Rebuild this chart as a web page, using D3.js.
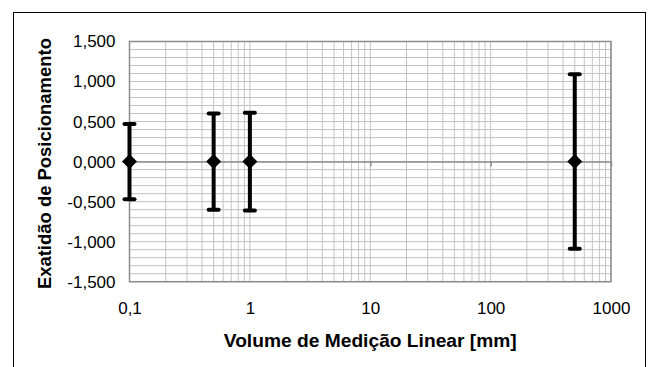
<!DOCTYPE html>
<html>
<head>
<meta charset="utf-8">
<script src="https://cdn.jsdelivr.net/npm/d3@7"></script>
<style>
  html, body { margin: 0; padding: 0; background: #fff; overflow: hidden; }
  svg { display: block; font-family: "Liberation Sans", Arial, sans-serif; }
</style>
</head>
<body>
<div id="chart"></div>
<script>
// data
const volumes = [0.1, 0.5, 1, 500];
const exatidao = [0, 0, 0, 0];
const incerteza = [0.47, 0.6, 0.61, 1.09];

const xTicks = [0.1, 1, 10, 100, 1000];
const xTickLabels = ["0,1", "1", "10", "100", "1000"];
const yTicks = [-1.5, -1, -0.5, 0, 0.5, 1, 1.5];

const xLabel = "Volume de Medição Linear [mm]";
const yLabel = "Exatidão de Posicionamento";

const W = 653, H = 367;
const margin = { top: 41.5, right: 42, bottom: 85.3, left: 129.5 };
const width = W - margin.left - margin.right;
const height = H - margin.top - margin.bottom;

const svg = d3.select("#chart").append("svg").attr("width", W).attr("height", H);

// outer frame (bottom edge falls outside the picture)
svg.append("rect")
  .attr("x", 13.5).attr("y", 12.5)
  .attr("width", 632).attr("height", 400)
  .attr("fill", "none").attr("stroke", "#000").attr("stroke-width", 1);

const g = svg.append("g").attr("transform", `translate(${margin.left},${margin.top})`);

const x = d3.scaleLog().domain([0.1, 1000]).range([0, width]);
const y = d3.scaleLinear().domain([-1.5, 1.5]).range([height, 0]);

// grid: minor horizontal lines every 0.1
const hLines = d3.range(-15, 16).map((d) => d / 10);
g.append("g").selectAll("line").data(hLines).enter().append("line")
  .attr("x1", 0).attr("x2", width)
  .attr("y1", (d) => y(d)).attr("y2", (d) => y(d))
  .attr("stroke", "#c0c0c0").attr("stroke-width", 1);

// grid: log minor vertical lines
const vLines = [];
[0.1, 1, 10, 100].forEach((dec) => {
  for (let k = 1; k <= 9; k++) vLines.push(dec * k);
});
vLines.push(1000);
g.append("g").selectAll("line").data(vLines).enter().append("line")
  .attr("x1", (d) => x(d)).attr("x2", (d) => x(d))
  .attr("y1", 0).attr("y2", height)
  .attr("stroke", "#c4c4c4").attr("stroke-width", 1);

// plot border
g.append("rect")
  .attr("x", 0).attr("y", 0).attr("width", width).attr("height", height)
  .attr("fill", "none").attr("stroke", "#8c8c8c").attr("stroke-width", 1.5);

// x axis line at zero with decade ticks
const xAxis = g.append("g").attr("transform", `translate(0,${y(0)})`)
  .call(d3.axisBottom(x).tickValues(xTicks).tickSize(5).tickSizeOuter(0).tickFormat(""));
xAxis.select(".domain").attr("stroke", "#8c8c8c").attr("stroke-width", 1.5);
xAxis.selectAll(".tick line").attr("stroke", "#8c8c8c").attr("stroke-width", 1.5);

// x tick labels at the bottom
const xLab = g.append("g").attr("transform", `translate(0,${height})`)
  .call(d3.axisBottom(x).tickValues(xTicks).tickSize(0).tickPadding(20)
    .tickFormat((d, i) => xTickLabels[i]));
xLab.select(".domain").remove();
xLab.selectAll("text").attr("fill", "#000").style("font-size", "17px")
  .style("font-family", "Liberation Sans, Arial, sans-serif");

// y tick labels
const loc = d3.formatLocale({ decimal: ",", thousands: ".", grouping: [3], currency: ["", ""], minus: "-" });
const fmt = loc.format(".3f");
const yAx = g.append("g")
  .call(d3.axisLeft(y).tickValues(yTicks).tickSize(0).tickPadding(14).tickFormat(fmt));
yAx.select(".domain").remove();
yAx.selectAll("text").attr("fill", "#000").style("font-size", "17px")
  .style("font-family", "Liberation Sans, Arial, sans-serif");

// error bars
const bars = g.append("g");
bars.selectAll(".stem").data(volumes).enter().append("line")
  .attr("x1", (d) => x(d)).attr("x2", (d) => x(d))
  .attr("y1", (d, i) => y(exatidao[i] + incerteza[i]))
  .attr("y2", (d, i) => y(exatidao[i] - incerteza[i]))
  .attr("stroke", "#000").attr("stroke-width", 4);
[1, -1].forEach((s) => {
  bars.selectAll(".cap" + s).data(volumes).enter().append("line")
    .attr("x1", (d) => x(d) - 5).attr("x2", (d) => x(d) + 5)
    .attr("y1", (d, i) => y(exatidao[i] + s * incerteza[i]))
    .attr("y2", (d, i) => y(exatidao[i] + s * incerteza[i]))
    .attr("stroke", "#000").attr("stroke-width", 4).attr("stroke-linecap", "round");
});

// diamond markers
g.append("g").selectAll("path").data(volumes).enter().append("path")
  .attr("d", d3.symbol().type(d3.symbolSquare).size(112))
  .attr("transform", (d, i) => `translate(${x(d)},${y(exatidao[i])}) rotate(45)`)
  .attr("fill", "#000");

// axis titles
svg.append("text")
  .attr("x", margin.left + width / 2).attr("y", 347)
  .attr("text-anchor", "middle")
  .attr("textLength", 293).attr("lengthAdjust", "spacingAndGlyphs")
  .style("font-size", "18px").style("font-weight", "bold")
  .text(xLabel);

svg.append("text")
  .attr("transform", `translate(51,${margin.top + height / 2 + 2}) rotate(-90)`)
  .attr("text-anchor", "middle")
  .attr("textLength", 251).attr("lengthAdjust", "spacingAndGlyphs")
  .style("font-size", "18px").style("font-weight", "bold")
  .text(yLabel);
</script>
</body>
</html>
